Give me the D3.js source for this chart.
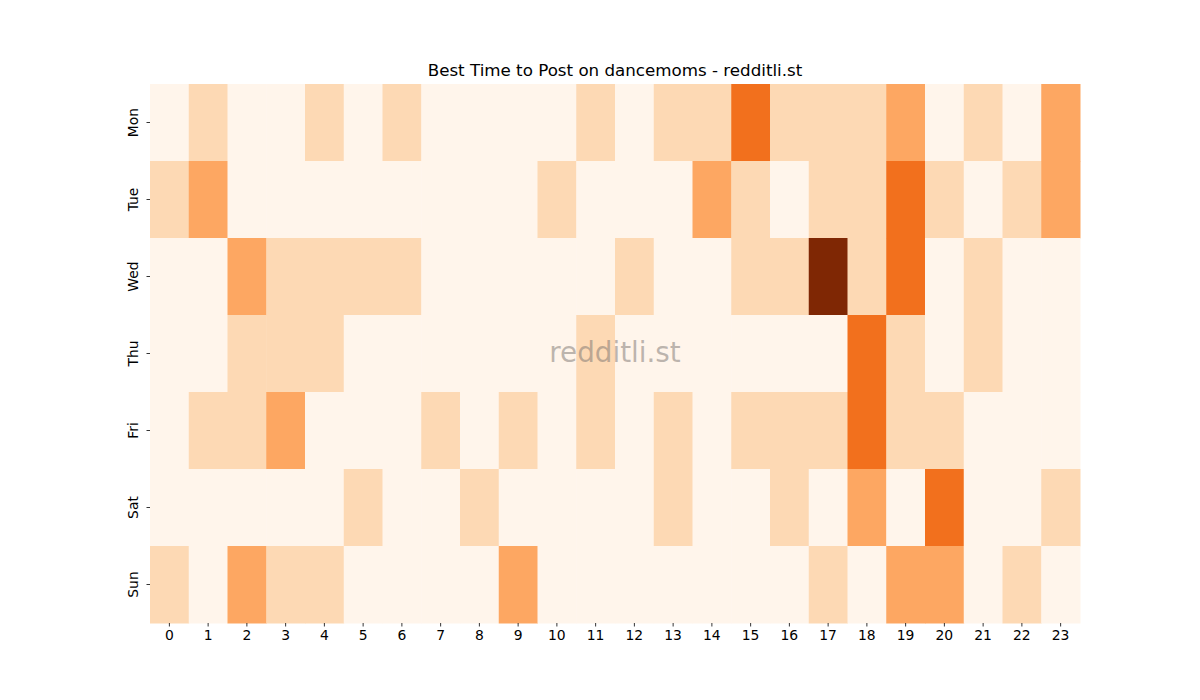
<!DOCTYPE html>
<html>
<head>
<meta charset="utf-8">
<script src="https://cdn.jsdelivr.net/npm/d3@7"></script>
<style>
  body { margin: 0; background: #fff; }
  text { font-family: "DejaVu Sans", sans-serif; }
</style>
</head>
<body>
<svg id="chart"></svg>
<script>
// days (rows) and hours (columns)
var days = ["Mon", "Tue", "Wed", "Thu", "Fri", "Sat", "Sun"];
var hours = d3.range(24);

// posting activity level per day, hour 0..23
var mon = [0,1,0,0,1,0,1,0,0,0,0,1,0,1,1,3,1,1,1,2,0,1,0,2];
var tue = [1,2,0,0,0,0,0,0,0,0,1,0,0,0,2,1,0,1,1,3,1,0,1,2];
var wed = [0,0,2,1,1,1,1,0,0,0,0,0,1,0,0,1,1,4,1,3,0,1,0,0];
var thu = [0,0,1,1,1,0,0,0,0,0,0,1,0,0,0,0,0,0,3,1,0,1,0,0];
var fri = [0,1,1,2,0,0,0,1,0,1,0,1,0,1,0,1,1,1,3,1,1,0,0,0];
var sat = [0,0,0,0,0,1,0,0,1,0,0,0,0,1,0,0,1,0,2,0,3,0,0,1];
var sun = [1,0,2,1,1,0,0,0,0,2,0,0,0,0,0,0,0,1,0,2,2,0,1,0];
var rows = [mon, tue, wed, thu, fri, sat, sun];

var levels = [0, 1, 2, 3, 4];
var levelColors = ["#fff5eb", "#fdd9b4", "#fda762", "#f2701d", "#7f2704"];

var w = 1200;
var h = 700;
var padding = { top: 84, bottom: 77, left: 150, right: 120 };

var svg = d3.select("#chart")
  .attr("width", w)
  .attr("height", h);

var xScale = d3.scaleBand()
  .domain(hours)
  .range([padding.left, w - padding.right]);

var yScale = d3.scaleBand()
  .domain(days)
  .range([padding.top, h - padding.bottom]);

var color = d3.scaleLinear()
  .domain(levels)
  .range(levelColors);

var cells = [];
rows.forEach(function(row, i) {
  row.forEach(function(v, j) {
    cells.push({ day: days[i], hour: hours[j], value: v });
  });
});

svg.append("g")
  .selectAll("rect")
  .data(cells)
  .enter()
  .append("rect")
  .attr("x", function(d) { return xScale(d.hour); })
  .attr("y", function(d) { return yScale(d.day); })
  .attr("width", xScale.bandwidth() + 0.5)
  .attr("height", yScale.bandwidth() + 0.5)
  .attr("fill", function(d) { return color(d.value); });

var xAxis = d3.axisBottom(xScale).tickSize(3.5).tickPadding(3.5);
var yAxis = d3.axisLeft(yScale).tickSize(3.5).tickPadding(3.5);

var gx = svg.append("g")
  .attr("transform", "translate(0," + (h - padding.bottom) + ")")
  .call(xAxis);
gx.select(".domain").remove();
gx.selectAll("line").attr("stroke", "#000").attr("stroke-width", 0.8);
gx.selectAll("text").attr("font-size", "13.9px").attr("fill", "#000")
  .attr("font-family", "DejaVu Sans");

var gy = svg.append("g")
  .attr("transform", "translate(" + padding.left + ",0)")
  .call(yAxis);
gy.select(".domain").remove();
gy.selectAll("line").attr("stroke", "#000").attr("stroke-width", 0.8);
gy.selectAll("text")
  .attr("font-size", "13.9px")
  .attr("fill", "#000")
  .attr("font-family", "DejaVu Sans")
  .attr("x", null)
  .attr("dy", null)
  .attr("text-anchor", "middle")
  .attr("transform", "translate(-12.5,0) rotate(-90)");

// title
svg.append("text")
  .text("Best Time to Post on dancemoms - redditli.st")
  .attr("x", (padding.left + w - padding.right) / 2)
  .attr("y", 76)
  .attr("text-anchor", "middle")
  .attr("font-size", "16.7px")
  .attr("fill", "#000");

// watermark
svg.append("text")
  .text("redditli.st")
  .attr("x", (padding.left + w - padding.right) / 2)
  .attr("y", 362)
  .attr("text-anchor", "middle")
  .attr("font-size", "27.8px")
  .attr("fill", "#7a7370")
  .attr("fill-opacity", 0.5);
</script>
</body>
</html>
